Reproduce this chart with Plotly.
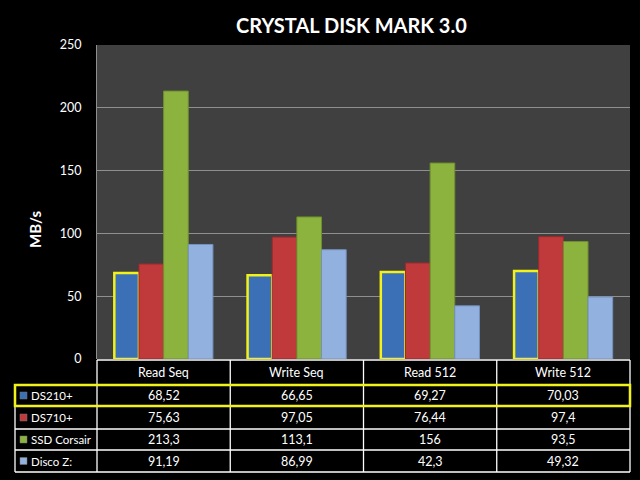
import plotly.graph_objects as go

categories = ["Read Seq", "Write Seq", "Read 512", "Write 512"]
series_names = ["DS210+", "DS710+", "SSD Corsair", "Disco Z:"]
ds210 = [68.52, 66.65, 69.27, 70.03]
ds710 = [75.63, 97.05, 76.44, 97.4]
ssd_corsair = [213.3, 113.1, 156, 93.5]
disco_z = [91.19, 86.99, 42.3, 49.32]
series_values = [ds210, ds710, ssd_corsair, disco_z]
colors = ["#3b6fb6", "#c0393b", "#8db33f", "#93b1df"]
edge_colors = ["#2c5694", "#9a2b2d", "#6f8f2e", "#7592c0"]
y_ticks = [0, 50, 100, 150, 200, 250]

W, H = 640, 480
L, R, T, B = 97, 630, 45, 359  # plot area in pixels
FONT = "Lato"
YEL = "#f2f21a"

def px(x):
    return (x - L) / (R - L)

def py(y):
    return (B - y) / (B - T)

fig = go.Figure()
for i, (name, vals, col, ecol) in enumerate(zip(series_names, series_values, colors, edge_colors)):
    fig.add_trace(go.Bar(
        x=categories, y=vals, name=name,
        marker=dict(color=col,
                    line=dict(color=YEL if i == 0 else ecol, width=2.5 if i == 0 else 1)),
        showlegend=False,
    ))

shapes = []
annotations = []

tab_left = 15
row_y = [360, 385, 406, 429, 450, 472]
ncol = len(categories)
col_w = (R - L) / ncol
col_x = [L + k * col_w for k in range(ncol + 1)]

line_style = dict(color="white", width=1.3)
shapes.append(dict(type="line", xref="paper", yref="paper",
                   x0=px(L), x1=px(R), y0=py(row_y[0]), y1=py(row_y[0]), line=line_style))
for yy in row_y[1:]:
    shapes.append(dict(type="line", xref="paper", yref="paper",
                       x0=px(tab_left), x1=px(R), y0=py(yy), y1=py(yy), line=line_style))
shapes.append(dict(type="line", xref="paper", yref="paper",
                   x0=px(tab_left), x1=px(tab_left), y0=py(row_y[1]), y1=py(row_y[-1]), line=line_style))
for xx in col_x:
    shapes.append(dict(type="line", xref="paper", yref="paper",
                       x0=px(xx), x1=px(xx), y0=py(row_y[0]), y1=py(row_y[-1]), line=line_style))

TS = 12.5
LS = 11.5
for k, cat in enumerate(categories):
    annotations.append(dict(x=px((col_x[k] + col_x[k + 1]) / 2), y=py((row_y[0] + row_y[1]) / 2),
                            xref="paper", yref="paper", text=cat, showarrow=False,
                            font=dict(color="white", size=TS, family=FONT),
                            xanchor="center", yanchor="middle"))

def fmt(v):
    return f"{v:g}".replace(".", ",")

for r, (name, vals, col) in enumerate(zip(series_names, series_values, colors)):
    y0, y1 = row_y[r + 1], row_y[r + 2]
    ym = (y0 + y1) / 2
    shapes.append(dict(type="rect", xref="paper", yref="paper",
                       x0=px(20), x1=px(27), y0=py(ym - 3.5), y1=py(ym + 3.5),
                       fillcolor=col, line=dict(color="#777777", width=0.5)))
    annotations.append(dict(x=px(29), y=py(ym), xref="paper", yref="paper", text=name,
                            showarrow=False, font=dict(color="white", size=LS, family=FONT),
                            xanchor="left", yanchor="middle"))
    for k, v in enumerate(vals):
        annotations.append(dict(x=px((col_x[k] + col_x[k + 1]) / 2), y=py(ym),
                                xref="paper", yref="paper", text=fmt(v), showarrow=False,
                                font=dict(color="white", size=TS, family=FONT),
                                xanchor="center", yanchor="middle"))

shapes.append(dict(type="rect", xref="paper", yref="paper",
                   x0=px(tab_left), x1=px(R), y0=py(row_y[1]), y1=py(row_y[2]),
                   line=dict(color=YEL, width=2.5)))

annotations.append(dict(x=px(351), y=py(25), xref="paper", yref="paper",
                        text="<b>CRYSTAL DISK MARK 3.0</b>", showarrow=False,
                        font=dict(color="white", size=20, family=FONT),
                        xanchor="center", yanchor="middle"))
annotations.append(dict(x=px(35), y=py(230), xref="paper", yref="paper",
                        text="<b>MB/s</b>", showarrow=False, textangle=-90,
                        font=dict(color="white", size=15, family=FONT),
                        xanchor="center", yanchor="middle"))

fig.update_layout(
    width=W, height=H,
    margin=dict(l=L, r=W - R, t=T, b=H - B),
    paper_bgcolor="black",
    plot_bgcolor="#404040",
    barmode="group",
    bargap=0.26,
    bargroupgap=0,
    font=dict(family=FONT, color="white"),
    xaxis=dict(showticklabels=False, showgrid=False, zeroline=False,
               showline=False, ticks=""),
    yaxis=dict(range=[0, 250], tickvals=y_ticks, showgrid=True, gridcolor="#8f8f8f",
               gridwidth=1, zeroline=False, showline=True, linecolor="#8f8f8f",
               linewidth=1, ticks="", ticklabelstandoff=12,
               tickfont=dict(color="white", size=12.5, family=FONT)),
    shapes=shapes,
    annotations=annotations,
)

fig.write_html("out.html", config={"displayModeBar": False},
               post_script="document.body.style.margin='0';document.body.style.background='black';")
